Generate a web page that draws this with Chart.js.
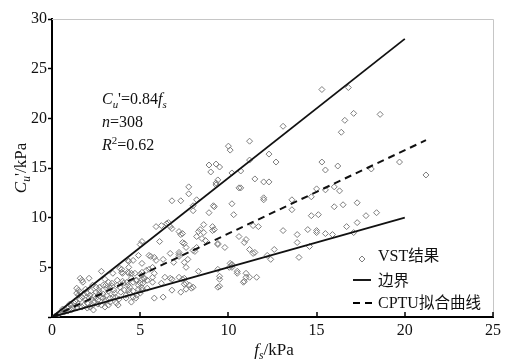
<!DOCTYPE html>
<html>
<head>
<meta charset="utf-8">
<script src="https://cdn.jsdelivr.net/npm/chart.js@4.4.1/dist/chart.umd.min.js"></script>
<style>
  html, body { margin: 0; padding: 0; background: #fff; }
  #chart { display: block; }
</style>
</head>
<body>
<canvas id="chart" width="505" height="361"></canvas>
<script>
// VST vane strength vs CPTU sleeve friction, with boundary lines and fitted line.

const X_MAX = 25;
const Y_MAX = 30;
const TICK_STEP = 5;

// [fs (kPa), Cu' (kPa)]
const vstPoints = [
  // upper / right part of the cloud
  [15.3, 22.9], [16.8, 23.1], [17.1, 20.5], [18.6, 20.4], [16.6, 19.8], [13.1, 19.2],
  [16.4, 18.6], [11.2, 17.7], [10.0, 17.2], [10.1, 16.8], [12.3, 16.4], [11.2, 15.8],
  [12.7, 15.6], [15.3, 15.6], [19.7, 15.6], [15.5, 14.8], [16.2, 15.2], [18.1, 14.9],
  [21.2, 14.3], [10.2, 14.5], [10.7, 14.7], [11.5, 13.9], [12.0, 13.6], [12.3, 13.6],
  [10.7, 13.0], [15.0, 12.9], [15.5, 12.8], [16.0, 13.1], [16.3, 12.7], [12.0, 12.0],
  [12.0, 11.8], [13.6, 11.8], [14.7, 12.1], [10.2, 11.4], [13.6, 10.8], [16.0, 11.1],
  [16.5, 11.3], [17.3, 11.5], [10.3, 10.3], [14.7, 10.2], [15.1, 10.3], [17.8, 10.2],
  [18.4, 10.5], [17.3, 9.5], [10.6, 13.0],
  // fs 10-18, lower half
  [11.4, 9.2], [11.7, 9.1], [10.6, 8.1], [11.0, 7.8], [10.9, 7.5], [13.1, 8.7],
  [13.9, 8.3], [14.5, 8.8], [15.0, 8.7], [15.0, 8.5], [15.5, 8.4], [15.9, 8.3],
  [16.7, 9.1], [17.1, 8.5], [13.9, 7.5], [14.6, 7.1], [11.2, 6.8], [11.4, 6.4],
  [11.5, 6.5], [12.6, 6.8], [12.2, 6.2], [12.4, 5.8], [14.0, 6.0], [10.2, 5.3],
  [10.2, 5.0], [10.5, 4.4], [11.0, 4.4], [11.0, 4.0], [10.9, 3.6], [10.85, 3.5],
  [11.6, 4.0], [11.2, 4.0],
  // fs 6-10, upper
  [8.9, 15.3], [9.3, 15.4], [9.5, 15.1], [9.0, 14.6], [9.4, 13.8], [9.3, 13.5],
  [9.3, 13.3], [7.75, 13.1], [7.75, 12.4], [6.8, 11.7], [7.3, 11.7], [8.2, 11.8],
  [8.0, 11.2], [8.0, 10.7], [9.15, 11.2], [9.2, 11.1], [8.9, 10.5],
  // fs 5-10, middle and lower
  [5.9, 9.1], [6.2, 9.2], [6.5, 9.4], [6.6, 9.5], [6.7, 9.1], [6.8, 8.9],
  [8.6, 9.3], [8.3, 8.6], [8.6, 8.5], [9.1, 8.7], [7.4, 8.4], [8.2, 8.1],
  [8.5, 7.9], [8.7, 7.7], [5.1, 7.6], [5.0, 7.3], [6.1, 7.6], [7.4, 7.5],
  [7.5, 7.4], [9.4, 7.4], [9.8, 7.0], [8.2, 7.0], [8.1, 6.6], [6.7, 6.4],
  [7.2, 6.5], [7.2, 6.3], [7.2, 6.1], [8.0, 6.7], [5.8, 6.0], [5.9, 5.7],
  [6.3, 5.8], [5.1, 5.4], [6.9, 5.5], [7.5, 5.5], [7.7, 5.8], [5.7, 5.0],
  [5.5, 4.8], [7.6, 5.0], [8.3, 4.6], [9.4, 4.8], [10.1, 5.4], [10.2, 5.2],
  [10.5, 4.6], [5.0, 4.3], [5.2, 3.9], [5.4, 3.7], [5.0, 3.4], [5.8, 4.4],
  [5.7, 4.0], [5.7, 3.5], [6.4, 4.0], [6.7, 3.9], [6.8, 3.8], [7.2, 4.0],
  [7.4, 3.8], [7.5, 3.9], [7.6, 3.4], [7.5, 3.3], [9.5, 4.1], [9.5, 3.8],
  [9.5, 3.1], [9.4, 3.0], [5.1, 2.7], [5.0, 2.4], [5.4, 2.9], [6.2, 3.4],
  [6.8, 2.7], [7.3, 2.5], [7.6, 2.8], [7.9, 2.9], [5.8, 1.9], [6.3, 2.0],
  [8.0, 3.0], [7.8, 3.2], [7.2, 8.6], [7.3, 8.3], [7.6, 7.0], [8.4, 8.8],
  [9.1, 9.1], [9.2, 8.8], [9.4, 7.3], [10.05, 5.0],
  // fs 0-5, dense part near the origin
  [4.9, 6.2], [4.35, 5.6], [2.8, 4.6], [3.85, 4.9], [3.95, 4.5], [4.0, 4.4],
  [4.35, 4.4], [4.5, 4.4], [4.7, 4.4], [2.1, 3.9], [3.0, 3.8], [3.2, 3.5],
  [3.4, 3.4], [3.7, 3.7], [4.05, 3.4], [4.25, 3.5], [4.5, 3.9], [4.6, 3.5],
  [4.8, 3.7], [5.1, 3.8], [5.25, 3.9], [1.4, 2.4], [1.5, 2.2], [1.6, 2.5],
  [1.7, 2.0], [1.9, 1.7], [2.1, 1.9], [2.25, 1.8], [2.35, 1.5], [2.65, 2.7],
  [2.7, 2.4], [2.8, 2.0], [2.9, 1.9], [3.3, 2.9], [3.5, 2.7], [3.55, 2.4],
  [3.85, 3.0], [4.1, 2.7], [4.35, 2.7], [4.4, 3.0], [4.5, 1.5], [2.8, 1.2],
  [3.0, 1.0], [3.2, 1.2], [0.95, 1.0], [1.1, 1.2], [0.75, 0.7], [0.55, 0.5],
  [0.85, 0.9], [1.25, 1.4], [0.4, 0.3], [0.45, 0.4], [0.2, 0.1], [2.0, 0.9],
  [2.15, 1.0], [2.35, 0.7], [3.05, 3.2], [3.45, 4.4], [3.95, 4.8], [4.3, 4.5],
  [4.35, 5.0], [4.75, 3.7], [4.6, 2.0], [4.75, 1.9], [4.9, 2.8], [5.1, 2.9],
  [5.15, 3.4], [5.1, 4.5], [5.35, 4.7], [5.5, 6.2], [5.6, 6.1], [4.3, 5.7],
  [4.6, 5.7], [1.6, 3.9], [1.7, 3.7], [1.75, 3.5], [1.4, 2.9], [1.5, 2.7],
  [2.0, 2.4], [2.15, 2.2], [2.5, 1.9], [2.6, 1.7], [3.3, 1.9], [3.45, 2.0],
  [3.65, 1.4], [3.75, 1.2], [4.2, 2.2], [4.4, 2.4], [2.9, 3.2], [3.1, 2.9],
  [2.3, 3.2], [2.5, 3.0], [1.0, 1.3], [1.2, 0.9], [1.3, 1.6], [1.5, 1.3],
  [1.6, 1.8], [1.8, 1.2], [1.8, 2.3], [1.9, 2.8], [2.0, 1.4], [2.2, 2.6],
  [2.3, 1.2], [2.4, 2.1], [2.5, 2.5], [2.6, 1.3], [2.7, 3.0], [2.9, 2.3],
  [3.0, 1.6], [3.1, 2.2], [3.2, 2.6], [3.3, 1.5], [3.4, 3.1], [3.6, 2.0],
  [3.7, 3.2], [3.8, 1.8], [3.9, 2.5], [4.0, 3.6], [4.2, 1.9], [4.3, 3.2],
  [4.6, 2.6], [4.8, 2.2], [4.9, 3.2], [0.3, 0.2], [0.6, 0.8], [0.7, 0.5],
  [0.9, 0.6], [1.1, 0.7], [1.4, 0.9], [1.7, 1.0],
];

const upperBound = [[0, 0], [20, 28]];
const lowerBound = [[0, 0], [20, 10]];
const cptuFit = [[0, 0], [21.2, 17.8]];

const legendLabels = ["VST结果", "边界", "CPTU拟合曲线"];

const SERIF = '"Times New Roman", "Liberation Serif", "DejaVu Serif", serif';
const CJK = '"Noto Sans CJK SC", sans-serif';
const POINT_GREY = "#7d7d7d";

const toXY = (pairs) => pairs.map(([x, y]) => ({ x, y }));

// draws a run of text pieces (italic / subscript / superscript / CJK), returns width
function drawRich(ctx, parts, x, y, size, measureOnly) {
  let cx = x;
  parts.forEach((p) => {
    const s = p.sub || p.sup ? size * 0.68 : (p.cjk ? size * 0.97 : size);
    ctx.font = `${p.it ? "italic " : ""}${s}px ${p.cjk ? CJK : SERIF}`;
    const dy = p.sub ? size * 0.24 : p.sup ? -size * 0.36 : 0;
    if (!measureOnly) ctx.fillText(p.t, cx, y + dy);
    cx += ctx.measureText(p.t).width + (p.gap || 0);
  });
  return cx - x;
}

function diamond(ctx, x, y, r) {
  ctx.beginPath();
  ctx.moveTo(x, y - r);
  ctx.lineTo(x + r, y);
  ctx.lineTo(x, y + r);
  ctx.lineTo(x - r, y);
  ctx.closePath();
  ctx.stroke();
}

const decor = {
  id: "decor",
  beforeDatasetsDraw(chart) {
    const { ctx, chartArea: a } = chart;
    ctx.save();
    ctx.strokeStyle = "#c6c6c6";
    ctx.lineWidth = 1;
    ctx.beginPath();
    ctx.moveTo(a.left, a.top + 0.5);
    ctx.lineTo(a.right + 0.5, a.top + 0.5);
    ctx.lineTo(a.right + 0.5, a.bottom);
    ctx.stroke();
    ctx.restore();
  },
  afterDraw(chart) {
    const { ctx, chartArea: a } = chart;
    const xs = chart.scales.x;
    ctx.save();

    // x ticks point into the plot
    ctx.strokeStyle = "#000";
    ctx.lineWidth = 1.5;
    ctx.beginPath();
    xs.ticks.forEach((t) => {
      if (t.value === 0) return;
      const px = Math.round(xs.getPixelForValue(t.value));
      ctx.moveTo(px, a.bottom);
      ctx.lineTo(px, a.bottom - 5);
    });
    ctx.stroke();

    ctx.fillStyle = "#111";
    ctx.textBaseline = "alphabetic";
    ctx.textAlign = "left";

    // axis titles
    const xTitle = [{ t: "f", it: 1 }, { t: "s", it: 1, sub: 1 }, { t: "/kPa" }];
    const xw = drawRich(ctx, xTitle, 0, 0, 17, true);
    drawRich(ctx, xTitle, 274 - xw / 2, 355, 17);

    const yTitle = [{ t: "C", it: 1 }, { t: "u", it: 1, sub: 1 }, { t: "'/kPa" }];
    const yw = drawRich(ctx, yTitle, 0, 0, 17, true);
    ctx.save();
    ctx.translate(26, 168);
    ctx.rotate(-Math.PI / 2);
    drawRich(ctx, yTitle, -yw / 2, 0, 17);
    ctx.restore();

    // regression note
    drawRich(ctx, [{ t: "C", it: 1 }, { t: "u", it: 1, sub: 1 }, { t: "'=0.84" }, { t: "f", it: 1 }, { t: "s", it: 1, sub: 1 }], 102, 104, 16);
    drawRich(ctx, [{ t: "n", it: 1 }, { t: "=308" }], 102, 127, 16);
    drawRich(ctx, [{ t: "R", it: 1 }, { t: "2", sup: 1 }, { t: "=0.62" }], 102, 150, 16);

    // legend
    const lx = 378;
    ctx.strokeStyle = POINT_GREY;
    ctx.lineWidth = 1;
    diamond(ctx, 362, 259, 3);
    drawRich(ctx, [{ t: "VST" }, { t: legendLabels[0].slice(3), cjk: 1 }], lx, 261, 16);

    ctx.strokeStyle = "#000";
    ctx.lineWidth = 1.8;
    ctx.beginPath();
    ctx.moveTo(353, 280);
    ctx.lineTo(371, 280);
    ctx.stroke();
    drawRich(ctx, [{ t: legendLabels[1], cjk: 1 }], lx, 286, 16);

    ctx.beginPath();
    ctx.moveTo(353, 303);
    ctx.lineTo(360, 303);
    ctx.moveTo(365, 303);
    ctx.lineTo(372, 303);
    ctx.stroke();
    drawRich(ctx, [{ t: "CPTU" }, { t: legendLabels[2].slice(4), cjk: 1 }], lx, 308, 16);

    ctx.restore();
  },
};

const lineStyle = {
  showLine: true,
  borderColor: "#111",
  borderWidth: 1.8,
  pointRadius: 0,
  fill: false,
  order: 1,
};

new Chart(document.getElementById("chart"), {
  type: "scatter",
  data: {
    datasets: [
      { label: "边界", data: toXY(upperBound), ...lineStyle },
      { label: "边界", data: toXY(lowerBound), ...lineStyle },
      { label: "CPTU拟合曲线", data: toXY(cptuFit), ...lineStyle, borderWidth: 2, borderDash: [7, 5] },
      {
        label: "VST结果",
        data: toXY(vstPoints),
        pointStyle: "rectRot",
        pointRadius: 3,
        borderColor: POINT_GREY,
        backgroundColor: "rgba(0,0,0,0)",
        borderWidth: 1,
        order: 2,
      },
    ],
  },
  options: {
    responsive: false,
    animation: false,
    layout: { padding: { top: 19, right: 10, left: 0, bottom: 0 } },
    plugins: { legend: { display: false }, tooltip: { enabled: false } },
    scales: {
      x: {
        type: "linear",
        min: 0,
        max: X_MAX,
        afterFit: (s) => { s.height = 44; },
        border: { color: "#000", width: 2 },
        grid: { drawOnChartArea: false, drawTicks: false },
        ticks: { stepSize: TICK_STEP, color: "#111", padding: 4, font: { family: SERIF, size: 16 } },
      },
      y: {
        type: "linear",
        min: 0,
        max: Y_MAX,
        afterFit: (s) => { s.width = 52; },
        border: { color: "#000", width: 2 },
        grid: { drawOnChartArea: false, tickLength: 4, tickColor: "#000", tickWidth: 1.5 },
        ticks: {
          stepSize: TICK_STEP,
          color: "#111",
          padding: 1,
          font: { family: SERIF, size: 16 },
          callback: (v) => (v === 0 ? "" : v),
        },
      },
    },
  },
  plugins: [decor],
});
</script>
</body>
</html>
